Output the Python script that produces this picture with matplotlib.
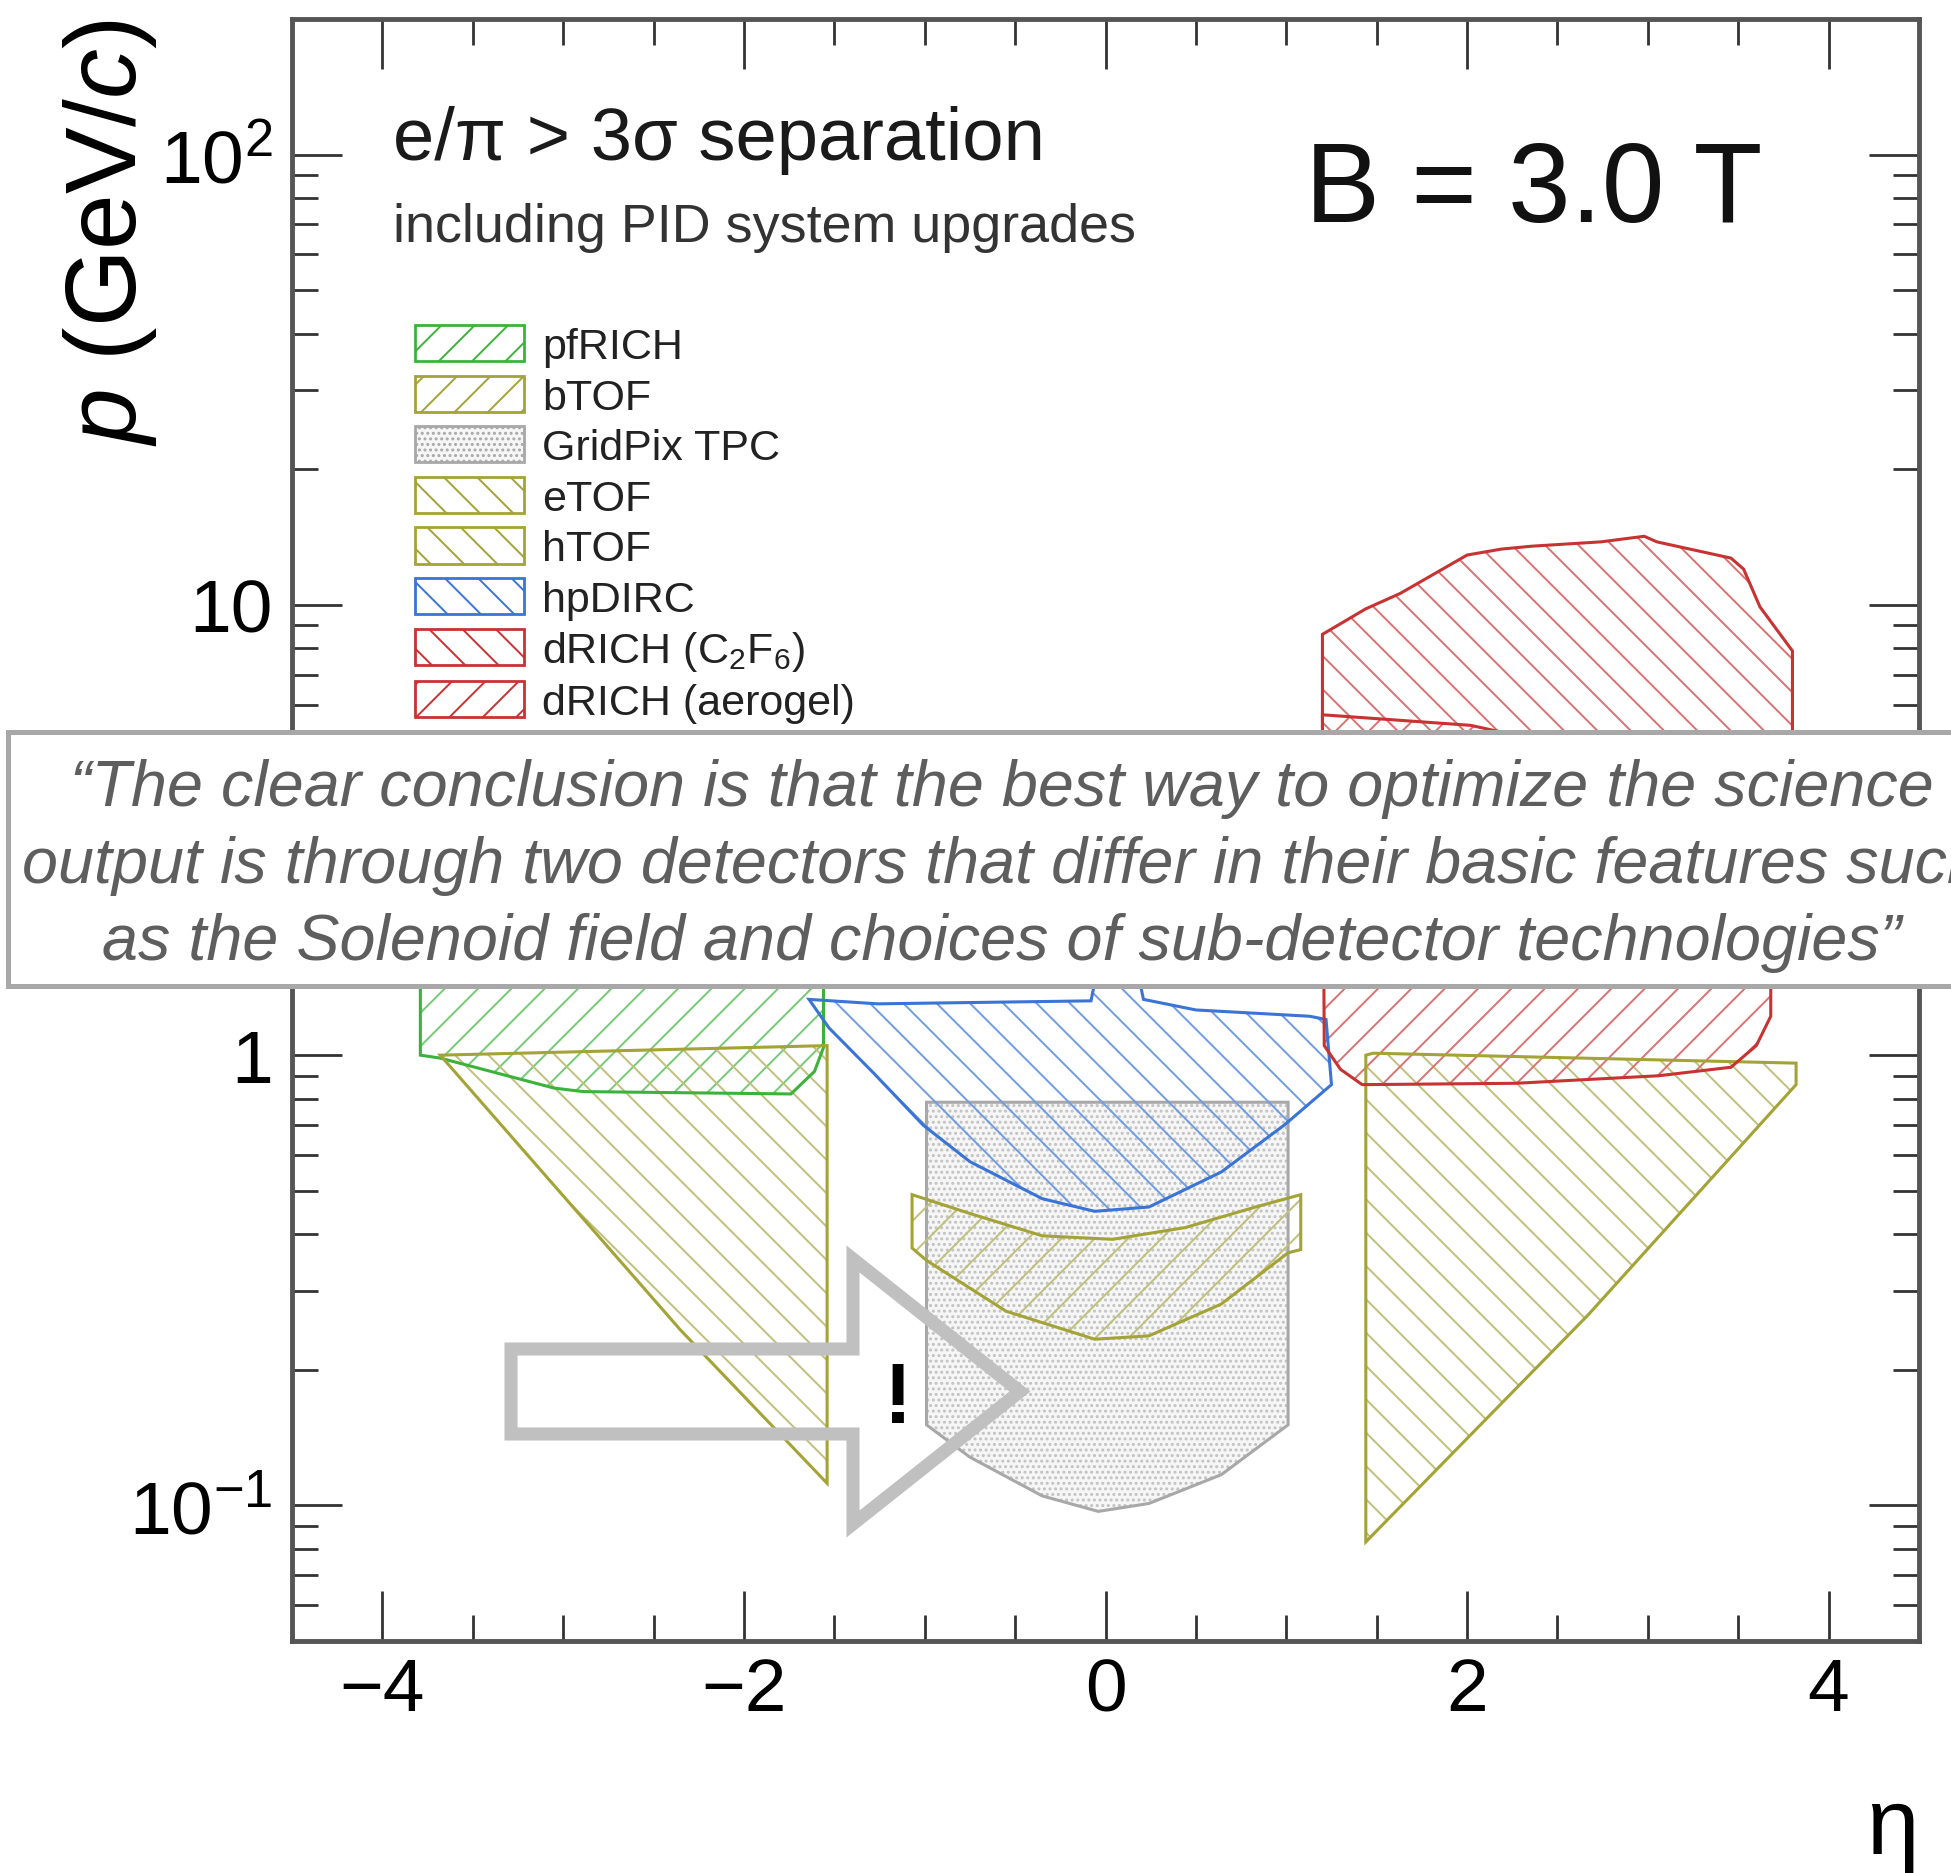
import matplotlib
matplotlib.use("Agg")
import matplotlib.pyplot as plt
import matplotlib.patches as mpatches
from matplotlib.ticker import FixedLocator, FixedFormatter, MultipleLocator, LogLocator, NullFormatter
import numpy as np

# ---------------- data (eta, p [GeV/c]) ----------------
pfrich_eta = [-3.79, -3.79, -3.68, -3.05, -2.89, -1.74, -1.61, -1.56, -1.56]
pfrich_p   = [3.0, 1.00, 0.985, 0.845, 0.83, 0.82, 0.92, 1.04, 3.0]

btof_eta = [-1.07, -0.75, -0.35, 0.04, 0.44, 0.83, 1.08, 1.08, 1.01, 0.64, 0.24, -0.06, -0.55, -0.99, -1.07]
btof_p   = [0.49, 0.445, 0.397, 0.39, 0.414, 0.46, 0.49, 0.37, 0.364, 0.28, 0.238, 0.234, 0.27, 0.35, 0.373]

gridpix_eta = [-0.99, 1.01, 1.01, 0.64, 0.24, -0.04, -0.35, -0.75, -0.99]
gridpix_p   = [0.786, 0.786, 0.151, 0.117, 0.101, 0.097, 0.105, 0.128, 0.151]

etof_eta = [-3.68, -1.54, -1.54, -2.35]
etof_p   = [1.00, 1.05, 0.112, 0.245]

htof_eta = [1.44, 1.44, 1.48, 3.82, 3.82, 2.67]
htof_p   = [0.083, 1.00, 1.01, 0.96, 0.86, 0.265]

hpdirc_eta = [-1.64, -1.26, -0.08, -0.06, 0.19, 0.21, 0.50, 1.13, 1.22, 1.25,
              0.99, 0.64, 0.24, -0.06, -0.35, -0.75, -1.01, -1.28, -1.53]
hpdirc_p   = [1.33, 1.30, 1.32, 1.45, 1.45, 1.33, 1.26, 1.22, 1.20, 0.86,
              0.70, 0.55, 0.46, 0.45, 0.48, 0.58, 0.70, 0.91, 1.15]

drich_gas_eta = [1.20, 1.20, 1.44, 1.63, 2.00, 2.19, 2.36, 2.74, 2.98, 3.05, 3.46, 3.53, 3.62, 3.80, 3.80]
drich_gas_p   = [3.5, 8.6, 9.8, 10.6, 12.9, 13.3, 13.5, 13.8, 14.2, 13.8, 12.7, 12.0, 9.9, 7.9, 3.5]

drich_aero_eta = [1.20, 2.02, 2.50, 3.68, 3.68, 3.60, 3.46, 3.06, 2.27, 1.42, 1.30, 1.21]
drich_aero_p   = [5.7, 5.4, 4.9, 4.5, 1.22, 1.05, 0.94, 0.90, 0.866, 0.86, 0.93, 1.05]

legend_labels = ["pfRICH", "bTOF", "GridPix TPC", "eTOF", "hTOF", "hpDIRC",
                 r"dRICH (C$_{2}$F$_{6}$)", "dRICH (aerogel)"]

xtick_vals = [-4, -2, 0, 2, 4]
ytick_vals = [0.1, 1, 10, 100]
ytick_labels = [r"$10^{-1}$", "1", "10", r"$10^{2}$"]

quote_lines = [
    "\u201cThe clear conclusion is that the best way to optimize the science",
    "output is through two detectors that differ in their basic features such",
    "as the Solenoid field and choices of sub-detector technologies\u201d",
]

# ---------------- style ----------------
plt.rcParams["font.family"] = ["Liberation Sans", "DejaVu Sans"]
plt.rcParams["mathtext.fontset"] = "custom"
plt.rcParams["mathtext.rm"] = "Liberation Sans"
plt.rcParams["mathtext.it"] = "Liberation Sans:italic"
plt.rcParams["mathtext.bf"] = "Liberation Sans:bold"
plt.rcParams["mathtext.default"] = "regular"
plt.rcParams["hatch.linewidth"] = 1.4

W, H, DPI = 1951, 1874, 100
def fx(x):
    return x / W
def fy(y):
    return 1 - y / H

fig = plt.figure(figsize=(W / DPI, H / DPI), dpi=DPI)
ax = fig.add_axes([fx(292), fy(1642), (1919 - 292) / W, (1642 - 20) / H])
ax.set_yscale("log")
ax.set_xlim(-4.5, 4.5)
ax.set_ylim(0.05, 200)

GREEN, GREEN_H = "#3bb33b", "#74ca74"
OLIVE, OLIVE_H = "#a3a336", "#c0c07c"
GRAY, GRAY_H = "#a8a8a8", "#c2c2c2"
BLUE, BLUE_H = "#3a74d6", "#709ce2"
RED, RED_H = "#c83232", "#da7272"

def region(eta, p, ec, hc, hatch, fc="none", z=2):
    xy = np.column_stack([eta, p])
    ax.add_patch(mpatches.Polygon(xy, closed=True, facecolor=fc, edgecolor=hc,
                                  hatch=hatch, linewidth=0, zorder=z))
    ax.add_patch(mpatches.Polygon(xy, closed=True, facecolor="none", edgecolor=ec,
                                  linewidth=2.2, zorder=z + 0.5))

region(gridpix_eta, gridpix_p, GRAY, GRAY_H, "...", fc="#f6f6f6", z=1)
region(pfrich_eta, pfrich_p, GREEN, GREEN_H, "/")
region(btof_eta, btof_p, OLIVE, OLIVE_H, "/")
region(etof_eta, etof_p, OLIVE, OLIVE_H, "\\")
region(htof_eta, htof_p, OLIVE, OLIVE_H, "\\")
region(hpdirc_eta, hpdirc_p, BLUE, BLUE_H, "\\")
region(drich_gas_eta, drich_gas_p, RED, RED_H, "\\")
region(drich_aero_eta, drich_aero_p, RED, RED_H, "/")

# ---------------- axes ----------------
ax.xaxis.set_major_locator(FixedLocator(xtick_vals))
ax.xaxis.set_minor_locator(MultipleLocator(0.5))
ax.yaxis.set_major_locator(FixedLocator(ytick_vals))
ax.yaxis.set_major_formatter(FixedFormatter(ytick_labels))
ax.yaxis.set_minor_locator(LogLocator(base=10, subs=np.arange(2, 10), numticks=20))
ax.yaxis.set_minor_formatter(NullFormatter())

for s in ax.spines.values():
    s.set_linewidth(3.5)
    s.set_color("#555555")
ax.tick_params(which="both", direction="in", top=True, right=True,
               labeltop=False, labelright=False, color="#333333", width=2.0)
ax.tick_params(which="major", length=36, labelsize=54)
ax.tick_params(axis="x", which="major", pad=11)
ax.tick_params(axis="y", which="major", pad=14)
ax.tick_params(which="minor", length=19)

ax.set_ylabel(r"$\mathit{p}$ (GeV/$\mathit{c}$)", fontsize=72, loc="top")
ax.yaxis.set_label_coords(-0.0818, 1.0)
ax.set_xlabel("\u03b7", fontsize=68, loc="right")
ax.xaxis.set_label_coords(1.0, -0.088)

# ---------------- header texts ----------------
fig.text(fx(393), fy(160), "e/\u03c0 > 3\u03c3 separation", fontsize=53.5,
         ha="left", va="baseline", color="#1a1a1a")
fig.text(fx(393), fy(242), "including PID system upgrades", fontsize=38.8,
         ha="left", va="baseline", color="#333333")
fig.text(fx(1305), fy(222), "B = 3.0 T", fontsize=81,
         ha="left", va="baseline", color="#111111")

# ---------------- legend ----------------
leg_colors = [GREEN, OLIVE, GRAY, OLIVE, OLIVE, BLUE, RED, RED]
leg_hatches = ["/", "/", "...", "\\", "\\", "\\", "\\", "/"]
handles = [mpatches.Patch(facecolor=("#f6f6f6" if h == "..." else "none"),
                          edgecolor=c, hatch=h, linewidth=2.0)
           for c, h in zip(leg_colors, leg_hatches)]
leg = ax.legend(handles, legend_labels, loc="upper left",
                bbox_to_anchor=(fx(415), fy(326)), bbox_transform=fig.transFigure,
                frameon=False, fontsize=31, handlelength=2.52, handleheight=0.92,
                handletextpad=0.44, labelspacing=0.2, borderpad=0, borderaxespad=0)
for t in leg.get_texts():
    t.set_color("#222222")

# ---------------- quote box overlay ----------------
box = mpatches.Rectangle((fx(8), fy(987)), (2000 - 8) / W, (987 - 733) / H,
                         transform=fig.transFigure, facecolor="white",
                         edgecolor="#a8a8a8", linewidth=3.6, zorder=5)
fig.add_artist(box)
for line, yb in zip(quote_lines, [806, 883, 960]):
    fig.text(fx(1002), fy(yb), line, fontsize=46.5, style="italic", color="#5e5e5e",
             ha="center", va="baseline", zorder=6)

# ---------------- arrow with "!" ----------------
arrow_px = [(511, 1350), (853, 1350), (853, 1260), (1020, 1392.5),
            (853, 1525), (853, 1435), (511, 1435)]
arrow = mpatches.Polygon([(fx(x), fy(y)) for x, y in arrow_px], closed=True,
                         transform=fig.transFigure, facecolor="none",
                         edgecolor="#c0c0c0", linewidth=9.4, joinstyle="miter", zorder=6)
fig.add_artist(arrow)
fig.text(fx(898), fy(1423), "!", fontsize=61, fontweight="bold", color="black",
         ha="center", va="baseline", zorder=7)

fig.savefig("out.png", dpi=DPI)
